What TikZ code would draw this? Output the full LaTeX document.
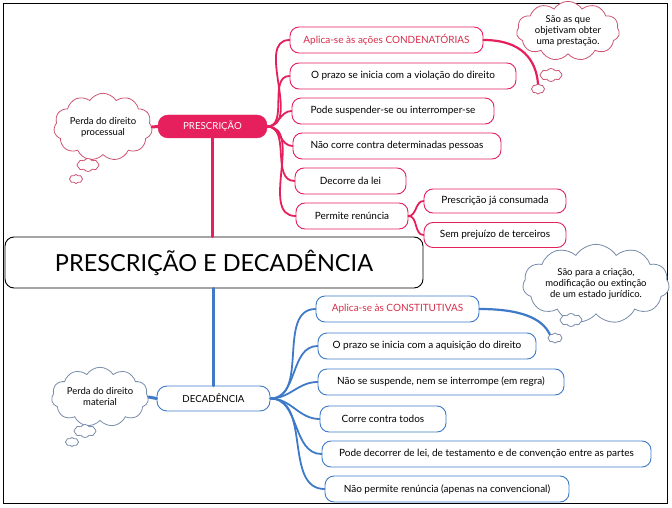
\documentclass[tikz,border=0pt]{standalone}
\usepackage{fontspec}
\setmainfont{Lato}
\usetikzlibrary{shapes.symbols}
\definecolor{pred}{RGB}{230,32,92}
\definecolor{dblue}{RGB}{62,122,200}
\definecolor{cred}{RGB}{205,85,115}
\definecolor{cblue}{RGB}{120,140,170}
\definecolor{rtext}{RGB}{215,45,75}
\begin{document}
\begin{tikzpicture}[x=1pt,y=-1pt,
  pbox/.style={draw=pred, line width=0.9pt, rounded corners=9pt, fill=white, minimum height=26pt, inner sep=0pt, font=\fontsize{10}{12}\selectfont},
  dbox/.style={pbox, draw=dblue},
  plink/.style={draw=pred, line width=1.8pt, line cap=round},
  dlink/.style={draw=dblue, line width=1.8pt, line cap=round},
  pcloud/.style={cloud, cloud puffs=11, cloud puff arc=115, draw=cred, line width=0.8pt, fill=white, inner sep=0pt, align=center, font=\fontsize{9.5}{11}\selectfont},
  dcloud/.style={pcloud, draw=cblue},
  tinycloud/.style={cloud puffs=8, aspect=1.6}
]
\useasboundingbox (0,0) rectangle (672,508);
\draw[line width=0.9pt] (3,3) rectangle (667,503);

% main nodes
\node[draw=pred, fill=pred, rounded corners=10pt, minimum width=109pt, minimum height=23pt, inner sep=0pt, text=white, font=\fontsize{9.7}{11}\selectfont] (pres) at (212.5,126.5) {PRESCRIÇÃO};
\node[draw=dblue, line width=0.9pt, fill=white, rounded corners=10pt, minimum width=113pt, minimum height=25pt, inner sep=0pt, font=\fontsize{9.7}{11}\selectfont] (dec) at (213.5,398.5) {DECADÊNCIA};

% prescricao children
\node[pbox, minimum width=193pt, text=rtext] (p1) at (386.5,40) {Aplica-se às ações CONDENATÓRIAS};
\node[pbox, minimum width=226pt] (p2) at (403,76) {O prazo se inicia com a violação do direito};
\node[pbox, minimum width=202pt] (p3) at (393,111) {Pode suspender-se ou interromper-se};
\node[pbox, minimum width=208pt] (p4) at (397,146) {Não corre contra determinadas pessoas};
\node[pbox, minimum width=111pt] (p5) at (350.5,181) {Decorre da lei};
\node[pbox, minimum width=112pt] (p6) at (352,216) {Permite renúncia};
\node[pbox, minimum width=142pt, minimum height=24pt] (s1) at (495,201) {Prescrição já consumada};
\node[pbox, minimum width=142pt, minimum height=25pt] (s2) at (495,235) {Sem prejuízo de terceiros};

% decadencia children
\node[dbox, minimum width=163pt, text=rtext] (d1) at (397.5,309) {Aplica-se às CONSTITUTIVAS};
\node[dbox, minimum width=218pt] (d2) at (427,346) {O prazo se inicia com a aquisição do direito};
\node[dbox, minimum width=246pt] (d3) at (441,382) {Não se suspende, nem se interrompe (em regra)};
\node[dbox, minimum width=126pt] (d4) at (383,419) {Corre contra todos};
\node[dbox, minimum width=329pt] (d5) at (486.5,454) {Pode decorrer de lei, de testamento e de convenção entre as partes};
\node[dbox, minimum width=244pt] (d6) at (447,489) {Não permite renúncia (apenas na convencional)};

% clouds
\node[pcloud, aspect=1.7, minimum width=93pt, minimum height=52pt] (cp) at (103,127) {Perda do direito\\processual};
\node[pcloud, tinycloud, minimum width=22pt, minimum height=13pt] (cp1) at (88,165) {};
\node[pcloud, tinycloud, minimum width=13pt, minimum height=9pt] (cp2) at (76,179) {};

\node[pcloud, aspect=2, minimum width=103pt, minimum height=50pt] (ct) at (568,31) {São as que\\objetivam obter\\uma prestação.};
\node[pcloud, tinycloud, minimum width=22pt, minimum height=13pt] (ct1) at (551,75) {};
\node[pcloud, tinycloud, minimum width=13pt, minimum height=10pt] (ct2) at (538,89) {};

\node[dcloud, aspect=2, minimum width=94pt, minimum height=46pt] (cd) at (100,397) {Perda do direito\\material};
\node[dcloud, tinycloud, minimum width=22pt, minimum height=13pt] (cd1) at (85,431) {};
\node[dcloud, tinycloud, minimum width=13pt, minimum height=9pt] (cd2) at (72,442) {};

\node[dcloud, aspect=2.4, minimum width=132pt, minimum height=54pt] (cb) at (596,284) {São para a criação,\\modificação ou extinção\\de um estado jurídico.};
\node[dcloud, tinycloud, minimum width=22pt, minimum height=13pt] (cb1) at (571,320) {};
\node[dcloud, tinycloud, minimum width=14pt, minimum height=10pt] (cb2) at (555,338) {};

% title
\node[draw, line width=0.9pt, fill=white, rounded corners=9pt, minimum width=418pt, minimum height=51pt, inner sep=0pt, font=\fontsize{23.5}{27}\selectfont] (title) at (214,262.5) {PRESCRIÇÃO E DECADÊNCIA};

% connectors
\draw[plink, line width=3pt] (pres.south) -- (pres.south |- title.north);
\draw[dlink, line width=3pt] (title.south -| dec.north) -- (dec.north);
\draw[plink, line width=3pt] (cp.east) -- (pres.west);
\draw[dlink, line width=3pt] (cd.east) -- (dec.west);
\foreach \n in {p1,p2,p3,p4,p5,p6}
  \draw[plink] (pres.east) to[out=0,in=180] (\n.west);
\foreach \n in {s1,s2}
  \draw[plink] (p6.east) to[out=0,in=180] (\n.west);
\foreach \n in {d1,d2,d3,d4,d5,d6}
  \draw[dlink] (dec.east) to[out=0,in=180] (\n.west);
\draw[plink, line width=2.2pt] (p1.east) .. controls (522,40) and (536,60) .. (ct2.north);
\draw[dlink, line width=2.2pt] (d1.east) .. controls (520,309) and (542,318) .. (cb2.north west);
\end{tikzpicture}
\end{document}
